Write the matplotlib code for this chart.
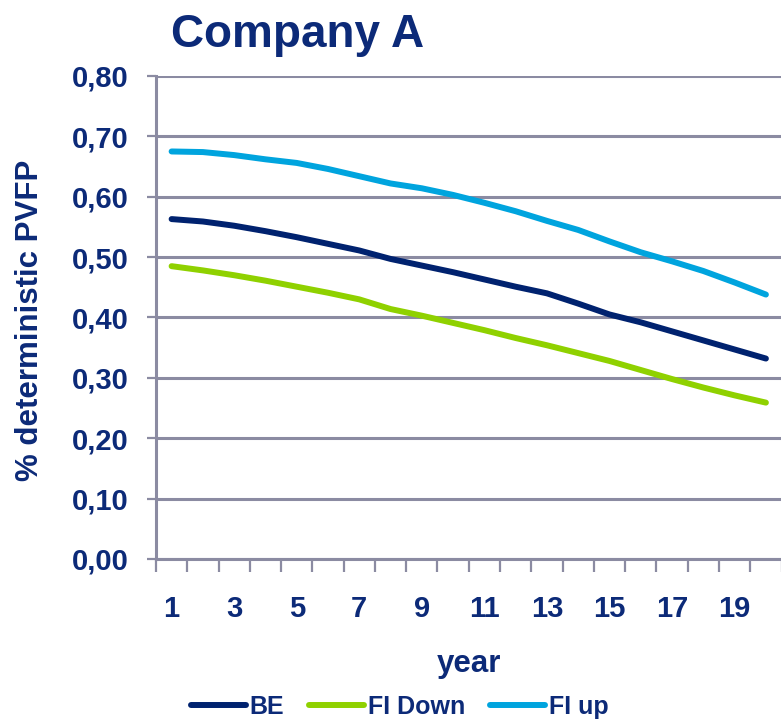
import matplotlib

matplotlib.use("Agg")
import matplotlib.pyplot as plt
from matplotlib.ticker import FixedLocator, FuncFormatter

plt.rcParams["font.family"] = ["Liberation Sans", "DejaVu Sans"]
plt.rcParams["font.weight"] = "bold"

YEARS = list(range(1, 21))
BE = [0.563, 0.559, 0.552, 0.543, 0.533, 0.522, 0.511, 0.497, 0.486, 0.475,
      0.463, 0.451, 0.440, 0.423, 0.405, 0.392, 0.377, 0.362, 0.347, 0.332]
FI_DOWN = [0.485, 0.478, 0.470, 0.461, 0.451, 0.441, 0.430, 0.414, 0.403, 0.391,
           0.379, 0.366, 0.354, 0.341, 0.328, 0.313, 0.298, 0.284, 0.271, 0.259]
FI_UP = [0.675, 0.674, 0.669, 0.662, 0.656, 0.646, 0.634, 0.622, 0.614, 0.603,
         0.590, 0.576, 0.560, 0.545, 0.526, 0.508, 0.493, 0.477, 0.458, 0.438]

SERIES = [("BE", BE, "#00226f"), ("FI Down", FI_DOWN, "#8fd100"), ("FI up", FI_UP, "#00a4de")]
TEXT = "#0c2a78"
GRID = "#8b8ba2"

fig = plt.figure(figsize=(7.81, 7.21), dpi=100)
ax = fig.add_axes([0.1997, 0.2247, 0.801, 0.6699])

for label, values, color in SERIES:
    ax.plot(YEARS, values, color=color, linewidth=4.3, solid_capstyle="round",
            solid_joinstyle="round", label=label, zorder=3)

ax.set_xlim(0.5, 20.5)
ax.set_ylim(0, 0.8)

# comma decimals on the value axis
ax.yaxis.set_major_locator(FixedLocator([i / 10 for i in range(9)]))
ax.yaxis.set_major_formatter(FuncFormatter(lambda v, _: f"{v:.2f}".replace(".", ",")))
ax.grid(axis="y", color=GRID, linewidth=2.2, zorder=1)

# labels on odd years, tick marks between categories
ax.xaxis.set_major_locator(FixedLocator(YEARS[::2]))
ax.xaxis.set_minor_locator(FixedLocator([y - 0.5 for y in YEARS] + [20.5]))
ax.tick_params(axis="x", which="major", length=0, pad=26, labelsize=21, labelcolor=TEXT)
ax.tick_params(axis="x", which="minor", length=9, width=1.6, color=GRID, direction="out")
ax.tick_params(axis="y", length=6.5, width=1.6, color=GRID, pad=13, labelsize=21, labelcolor=TEXT)

for side in ("top", "right"):
    ax.spines[side].set_visible(False)
for side in ("left", "bottom"):
    ax.spines[side].set_color(GRID)
    ax.spines[side].set_linewidth(2.2)

fig.text(0.381, 0.9348, "Company A", fontsize=33, color=TEXT, ha="center", va="baseline")
fig.text(30 / 781, 1 - 320 / 721, "% deterministic PVFP", fontsize=22.5, color=TEXT,
         rotation=90, ha="center", va="center")
fig.text(469 / 781, 1 - 672 / 721, "year", fontsize=22.5, color=TEXT, ha="center", va="baseline")

leg = fig.legend(loc="center", bbox_to_anchor=(0.512, 0.02), ncol=3, frameon=False,
                 fontsize=18, handlelength=2.2, handletextpad=0.15, columnspacing=1.0)
for text in leg.get_texts():
    text.set_color(TEXT)

fig.savefig("out.png", dpi=100)
